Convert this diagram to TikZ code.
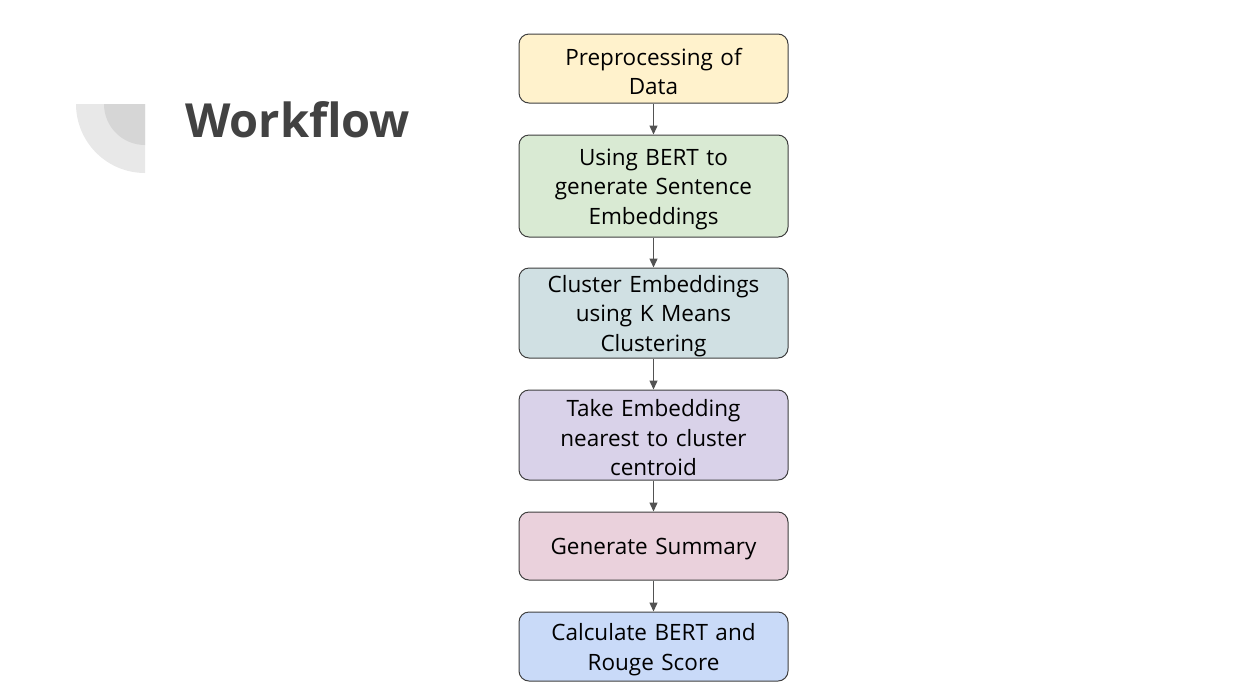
\documentclass[tikz,border=0pt]{standalone}
\usepackage{fontspec}
\setmainfont{Open Sans}
\usepackage{tikz}
\usetikzlibrary{arrows.meta,positioning}
\definecolor{prepc}{HTML}{FFF2CC}
\definecolor{bertc}{HTML}{D9EAD3}
\definecolor{clusc}{HTML}{D0E0E3}
\definecolor{nearc}{HTML}{D9D2E9}
\definecolor{summc}{HTML}{EAD1DC}
\definecolor{scorc}{HTML}{C9DAF8}
\definecolor{edgec}{HTML}{3F3F3F}
\definecolor{titlec}{HTML}{424242}
\colorlet{decoout}{gray!18}
\colorlet{decoin}{gray!32}
\tikzset{%
  stage/.style={draw=edgec,line width=1pt,rounded corners=10pt,align=center,text width=262pt,
    minimum width=269pt,inner sep=0pt,font=\fontsize{22.5}{29.5}\selectfont,
    execute at begin node={\rule{0pt}{23pt}}},
  flow/.style={draw=edgec!90,line width=1.3pt,-{Triangle[length=9pt,width=8pt]}},
}
\begin{document}
\begin{tikzpicture}[x=1pt,y=-1pt]
  \useasboundingbox (0,0) rectangle (1233,697);
  % corner mark
  \fill[decoout] (145,104) -- (76,104) arc[start angle=180,end angle=90,radius=69] -- cycle;
  \fill[decoin] (145,104) -- (104,104) arc[start angle=180,end angle=90,radius=41] -- cycle;
  \node[anchor=base west,inner sep=0pt,text=titlec,font=\fontsize{47}{50}\selectfont\bfseries] (title) at (185,137) {Workflow};
  % steps
  \node[stage,fill=prepc,minimum height=69pt] (prep) at (653.5,68.5) {Preprocessing of\\Data};
  \node[stage,fill=bertc,minimum height=102pt,below=31pt of prep] (bert) {Using BERT to\\generate Sentence\\Embeddings};
  \node[stage,fill=clusc,minimum height=90pt,below=30pt of bert] (clus) {Cluster Embeddings\\using K Means\\Clustering};
  \node[stage,fill=nearc,minimum height=90pt,below=31pt of clus] (near) {Take Embedding\\nearest to cluster\\centroid};
  \node[stage,fill=summc,minimum height=68pt,below=31pt of near] (summ) {Generate Summary};
  \node[stage,fill=scorc,minimum height=69pt,below=31pt of summ] (scor) {Calculate BERT and\\Rouge Score};
  \foreach \a/\b in {prep/bert,bert/clus,clus/near,near/summ,summ/scor}
    \draw[flow] (\a) -- (\b);
\end{tikzpicture}
\end{document}
